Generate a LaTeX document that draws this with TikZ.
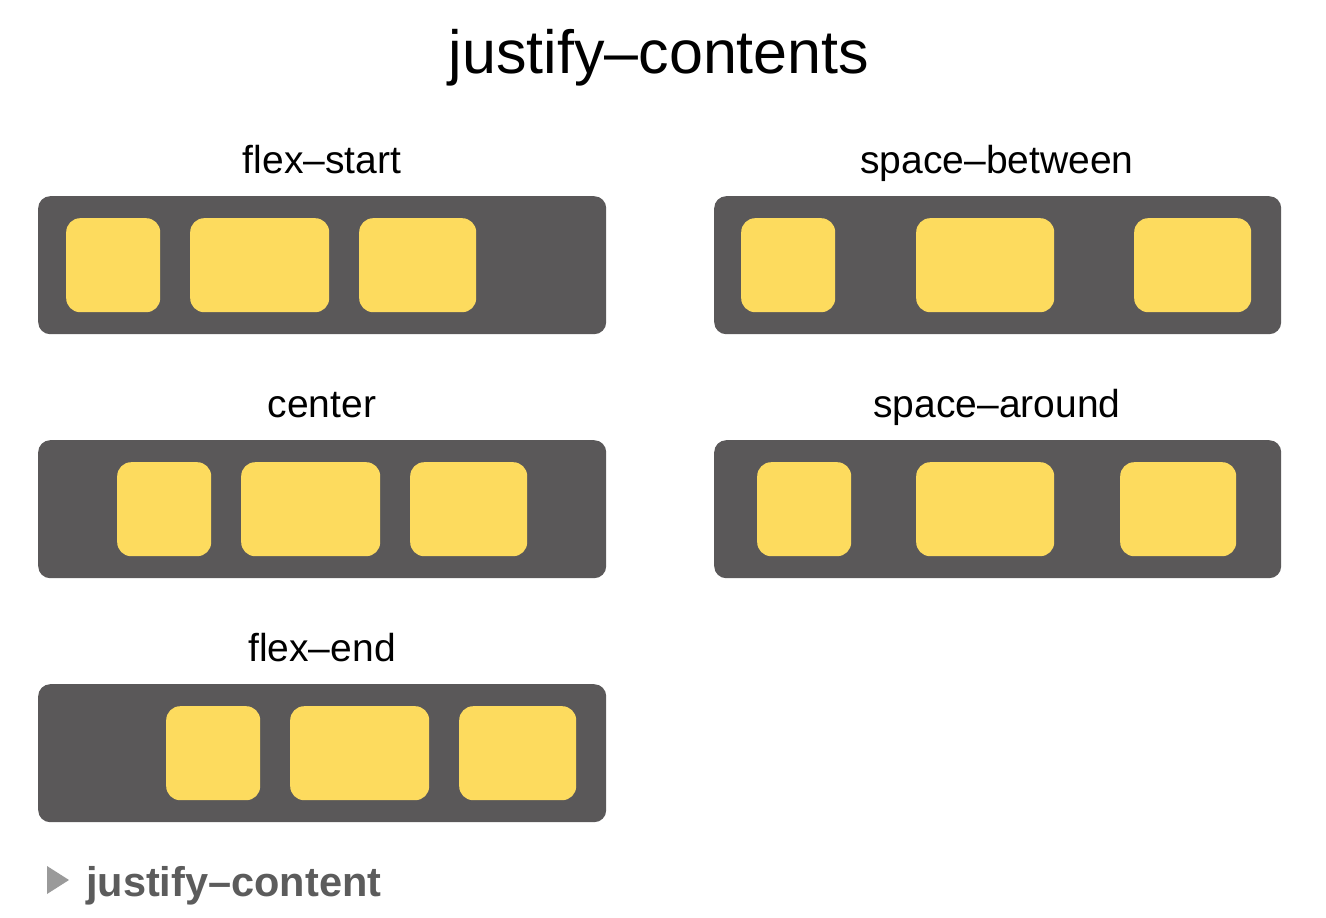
\documentclass[tikz,border=0pt]{standalone}
\usepackage{fontspec}
\setmainfont{Liberation Sans}
\definecolor{contgray}{HTML}{5A5859}
\definecolor{itemyellow}{HTML}{FDDB5E}
\definecolor{labgray}{HTML}{5C5C5C}
\definecolor{trigray}{HTML}{9A9A9A}
\begin{document}
\begin{tikzpicture}[x=1pt,y=-1pt,
  cont/.style={fill=contgray, rounded corners=12pt, inner sep=0pt, minimum height=138pt, minimum width=568pt, anchor=north west},
  item/.style={fill=itemyellow, rounded corners=14pt, inner sep=0pt, minimum height=94pt, anchor=north west},
  lab/.style={anchor=base, inner sep=0pt, font=\fontsize{39}{43}\selectfont},
]
\useasboundingbox (0,0) rectangle (1326,918);
\fill[white] (0,0) rectangle (1326,918);
\node[anchor=base, inner sep=0pt, font=\fontsize{61}{65}\selectfont] (title) at (659,73) {justify–contents};

% flex-start
\node[lab] (l1) at (322,173) {flex–start};
\node[cont] (c1) at (38,196) {};
\node[item, minimum width=94pt] (c1a) at (66,218) {};
\node[item, minimum width=139pt] (c1b) at (190,218) {};
\node[item, minimum width=117pt] (c1c) at (359,218) {};

% center
\node[lab] (l2) at (322,417) {center};
\node[cont] (c2) at (38,440) {};
\node[item, minimum width=94pt] (c2a) at (117,462) {};
\node[item, minimum width=139pt] (c2b) at (241,462) {};
\node[item, minimum width=117pt] (c2c) at (410,462) {};

% flex-end
\node[lab] (l3) at (322,661) {flex–end};
\node[cont] (c3) at (38,684) {};
\node[item, minimum width=94pt] (c3a) at (166,706) {};
\node[item, minimum width=139pt] (c3b) at (290,706) {};
\node[item, minimum width=117pt] (c3c) at (459,706) {};

% space-between
\node[lab] (l4) at (997,173) {space–between};
\node[cont, minimum width=567pt] (c4) at (714,196) {};
\node[item, minimum width=94pt] (c4a) at (741,218) {};
\node[item, minimum width=138pt] (c4b) at (916,218) {};
\node[item, minimum width=117pt] (c4c) at (1134,218) {};

% space-around
\node[lab] (l5) at (997,417) {space–around};
\node[cont, minimum width=567pt] (c5) at (714,440) {};
\node[item, minimum width=94pt] (c5a) at (757,462) {};
\node[item, minimum width=138pt] (c5b) at (916,462) {};
\node[item, minimum width=116pt] (c5c) at (1120,462) {};

% bottom caption
\fill[trigray] (47,866) -- (69,880) -- (47,894) -- cycle;
\node[anchor=base west, inner sep=0pt, text=labgray, font=\fontsize{41.5}{45}\selectfont\bfseries] (cap) at (86,896) {justify–content};
\end{tikzpicture}
\end{document}
